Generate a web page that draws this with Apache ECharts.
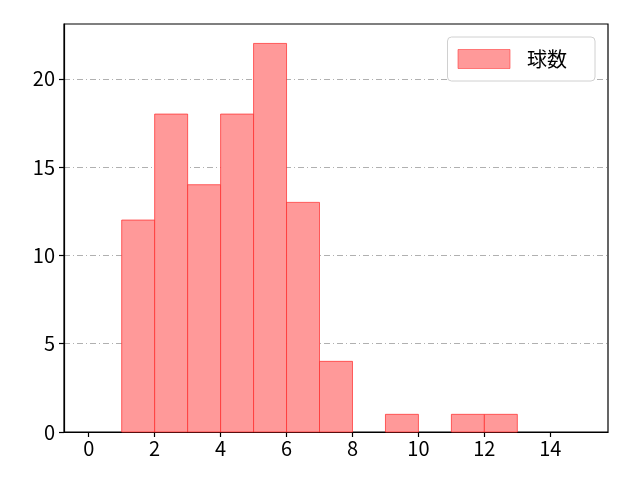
<!DOCTYPE html>
<html><head><meta charset="utf-8">
<script src="https://cdn.jsdelivr.net/npm/echarts@6/dist/echarts.min.js"></script>
<style>html,body{margin:0;padding:0;background:#fff}#c{width:640px;height:480px}</style>
</head><body><div id="c"></div>
<script>
const binStarts = [1,2,3,4,5,6,7,8,9,10,11,12];
const counts = [12,18,14,18,22,13,4,0,1,0,1,1];
const xTicks = [0,2,4,6,8,10,12,14];
const yTicks = [0,5,10,15,20];
const seriesName = '球数';
const FONT = '"Noto Sans CJK JP", "Noto Sans", sans-serif';

const data = binStarts.map((s,i)=>[s, s+1, counts[i]]);
const chart = echarts.init(document.getElementById('c'));
chart.setOption({
  animation:false,
  textStyle:{fontFamily:FONT},
  grid:{left:64,right:32,top:24,bottom:48,show:true,borderColor:'#000',borderWidth:1.2,backgroundColor:'transparent'},
  legend:{
    right:45, top:37, itemWidth:52, itemHeight:19, itemGap:10,
    padding:[12,28,12,10],
    borderColor:'#d0d0d0', borderWidth:1, borderRadius:4, backgroundColor:'#fff',
    textStyle:{fontSize:20, color:'#000', fontFamily:FONT, padding:[0,0,0,12]},
    data:[{name:seriesName, icon:'rect', itemStyle:{color:'#ff9999', borderColor:'rgba(255,60,60,0.6)', borderWidth:1}}]
  },
  xAxis:{
    type:'value', min:-0.75, max:15.75,
    axisLine:{show:true,onZero:false,lineStyle:{color:'#000',width:1.2}},
    axisTick:{show:true,length:5,lineStyle:{color:'#000',width:1.2},customValues:xTicks},
    axisLabel:{color:'#000',fontSize:20,fontFamily:FONT,margin:6,customValues:xTicks},
    splitLine:{show:false}
  },
  yAxis:{
    type:'value', min:0, max:23.1,
    axisLine:{show:true,onZero:false,lineStyle:{color:'#000',width:1.2}},
    axisTick:{show:true,length:5,lineStyle:{color:'#000',width:1.2},customValues:yTicks},
    axisLabel:{color:'#000',fontSize:20,fontFamily:FONT,margin:9,customValues:yTicks},
    splitLine:{show:true,lineStyle:{color:'#b0b0b0',width:1,type:[6,3,1,3]},customValues:yTicks}
  },
  series:[{
    name:seriesName, type:'custom',
    encode:{x:[0,1],y:2},
    data:data,
    renderItem:function(params, api){
      const p0 = api.coord([api.value(0), 0]);
      const p1 = api.coord([api.value(1), api.value(2)]);
      if (api.value(2) === 0) return null;
      return {type:'rect', shape:{x:p0[0], y:p1[1], width:p1[0]-p0[0], height:p0[1]-p1[1]},
        style:{fill:'#ff9999', stroke:'rgba(255,40,40,0.7)', lineWidth:1}};
    },
    itemStyle:{color:'#ff9999'}
  }]
});
</script></body></html>
